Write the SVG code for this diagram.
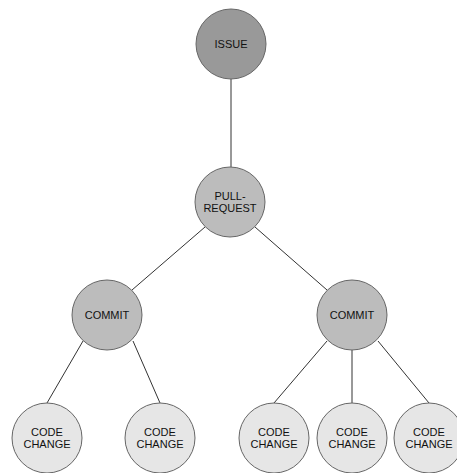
<svg xmlns="http://www.w3.org/2000/svg" width="457" height="473" viewBox="0 0 457 473">
<style>
.bg{fill:#ffffff}
.n circle{stroke:#666666;stroke-width:1}
.dark circle{fill:#999999}
.mid circle{fill:#bcbcbc}
.light circle{fill:#e6e6e6}
.n text{font-family:"Liberation Sans",Arial,Helvetica,sans-serif;font-size:11px;fill:#111111;text-anchor:middle}
.edges line{stroke:#333333;stroke-width:1}
</style>
<rect class="bg" x="0" y="0" width="457" height="473"/>
<g id="connectors" class="edges">
<line x1="231" y1="79" x2="231" y2="167"/>
<line x1="205" y1="227" x2="132" y2="290"/>
<line x1="255" y1="227" x2="327" y2="290"/>
<line x1="83" y1="341" x2="47" y2="403"/>
<line x1="133" y1="341" x2="160" y2="403"/>
<line x1="327" y1="341" x2="274" y2="403"/>
<line x1="352" y1="350" x2="352" y2="403"/>
<line x1="378" y1="341" x2="429" y2="403"/>
</g>
<g id="issue" class="n dark"><circle cx="231" cy="44" r="35"/><text x="231" y="48">ISSUE</text></g>
<g id="pull-request" class="n mid"><circle cx="230" cy="202" r="35"/><text x="230" y="199.5">PULL-</text><text x="230" y="211.5">REQUEST</text></g>
<g id="commit-1" class="n mid"><circle cx="107" cy="315" r="35"/><text x="107" y="319">COMMIT</text></g>
<g id="commit-2" class="n mid"><circle cx="352" cy="315" r="35"/><text x="352" y="319">COMMIT</text></g>
<g id="code-change-1" class="n light"><circle cx="47" cy="438" r="35"/><text x="47" y="436">CODE</text><text x="47" y="447.5">CHANGE</text></g>
<g id="code-change-2" class="n light"><circle cx="160" cy="438" r="35"/><text x="160" y="436">CODE</text><text x="160" y="447.5">CHANGE</text></g>
<g id="code-change-3" class="n light"><circle cx="274" cy="438" r="35"/><text x="274" y="436">CODE</text><text x="274" y="447.5">CHANGE</text></g>
<g id="code-change-4" class="n light"><circle cx="352" cy="438" r="35"/><text x="352" y="436">CODE</text><text x="352" y="447.5">CHANGE</text></g>
<g id="code-change-5" class="n light"><circle cx="429" cy="438" r="35"/><text x="429" y="436">CODE</text><text x="429" y="447.5">CHANGE</text></g>
</svg>
